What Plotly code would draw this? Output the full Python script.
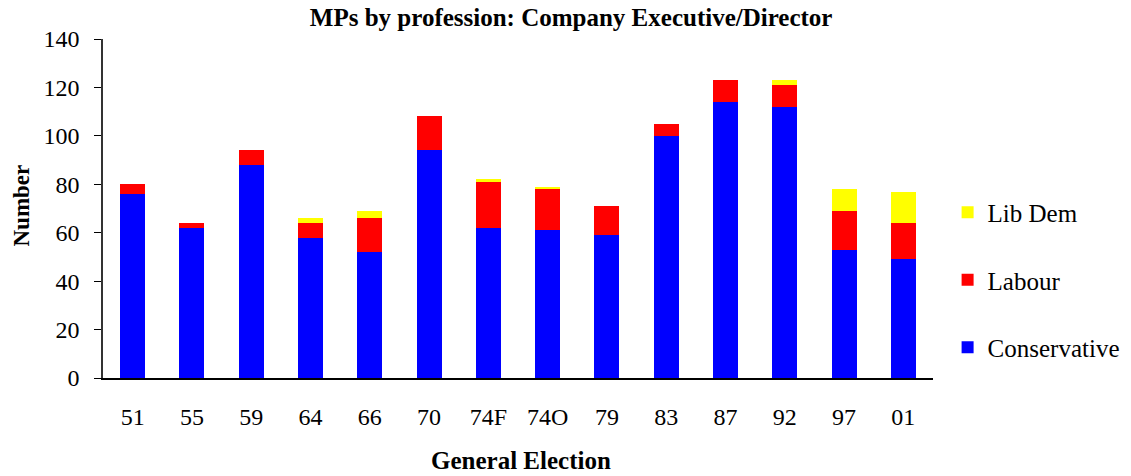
import plotly.graph_objects as go

elections = ["51", "55", "59", "64", "66", "70", "74F", "74O", "79", "83", "87", "92", "97", "01"]
conservative = [76, 62, 88, 58, 52, 94, 62, 61, 59, 100, 114, 112, 53, 49]
labour = [4, 2, 6, 6, 14, 14, 19, 17, 12, 5, 9, 9, 16, 15]
lib_dem = [0, 0, 0, 2, 3, 0, 1, 1, 0, 0, 0, 2, 9, 13]

FONT = "Liberation Serif, Times New Roman, serif"

fig = go.Figure()
fig.add_trace(go.Bar(x=elections, y=conservative, name="Conservative", marker_color="#0000FF",
                     marker_line_width=0, legendgroup="c", legendrank=3))
fig.add_trace(go.Bar(x=elections, y=labour, name="Labour", marker_color="#FF0000",
                     marker_line_width=0, legendgroup="l", legendrank=2))
fig.add_trace(go.Bar(x=elections, y=lib_dem, name="Lib Dem", marker_color="#FFFF00",
                     marker_line_width=0, legendgroup="d", legendrank=1))

fig.update_layout(
    width=1131, height=476,
    barmode="stack", bargap=0.58,
    plot_bgcolor="white", paper_bgcolor="white",
    margin=dict(l=103, r=198, t=39, b=98, autoexpand=False),
    font=dict(family=FONT, size=24, color="black"),
    title=dict(text="<b>MPs by profession: Company Executive/Director</b>",
               x=0.505, xanchor="center", y=1 - 17 / 476, yanchor="middle",
               font=dict(family=FONT, size=25, color="black")),
    legend=dict(x=1.02 - 2 / 830, xanchor="left", y=(378 - 280) / 339, yanchor="middle",
                traceorder="grouped", tracegroupgap=32,
                font=dict(family=FONT, size=25, color="black"),
                bgcolor="rgba(0,0,0,0)"),
    showlegend=True,
)
fig.update_xaxes(showline=True, linecolor="black", linewidth=1.5, ticks="",
                 ticklabelstandoff=16, tickfont=dict(family=FONT, size=24))
fig.update_yaxes(range=[0, 140], dtick=20, showgrid=False, zeroline=False,
                 showline=True, linecolor="#333333", linewidth=1.5,
                 ticks="outside", ticklen=7, tickcolor="black",
                 ticklabelstandoff=10, tickfont=dict(family=FONT, size=24))

fig.add_annotation(text="<b>Number</b>", xref="paper", yref="paper",
                   x=-(103 - 21) / 830, y=(378 - 205.5) / 339, xanchor="center", yanchor="middle",
                   textangle=-90, showarrow=False, font=dict(family=FONT, size=23))
fig.add_annotation(text="<b>General Election</b>", xref="paper", yref="paper",
                   x=(520.5 - 103) / 830, y=-(460 - 378) / 339, xanchor="center", yanchor="middle",
                   showarrow=False, font=dict(family=FONT, size=25))

fig.write_html("out.html", config={"displayModeBar": False},
               post_script="document.body.style.margin='0';")
